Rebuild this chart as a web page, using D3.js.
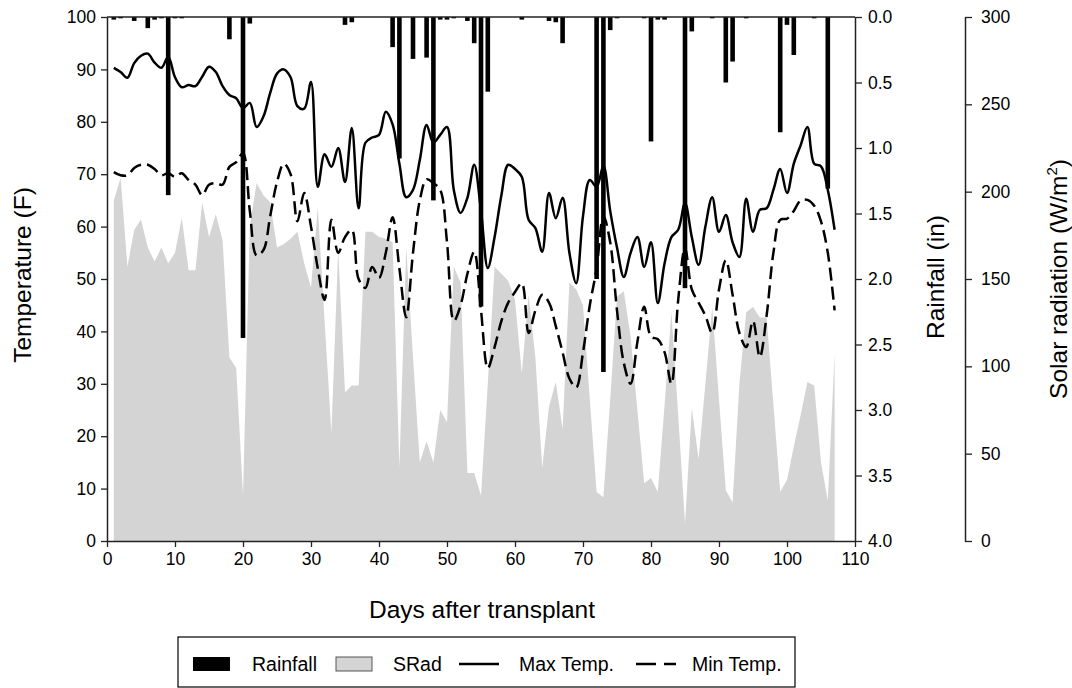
<!DOCTYPE html>
<html>
<head>
<meta charset="utf-8">
<script src="https://cdn.jsdelivr.net/npm/d3@7"></script>
<style>
  body { margin: 0; background: #fff; }
  text { font-family: Arial, "Liberation Sans", sans-serif; fill: #000; }
</style>
</head>
<body>
<svg id="chart" width="1072" height="688"></svg>
<script>
// daily values, day 1 .. day 107
const maxTemp = [90.3, 89.5, 88.4, 91.2, 92.6, 93, 91.3, 90.3, 92.4, 88.5,
  86.6, 87, 86.8, 88.6, 90.5, 89.5, 86.8, 85.1, 84.5, 82.6,
  83.6, 79, 81, 85.5, 89.2, 90, 88.5, 83, 82.5, 87.6,
  67.6, 73.8, 71.4, 75, 68.5, 78.8, 63.5, 76, 77, 77.5,
  81.9, 79.5, 72, 65.6, 67, 72.7, 79.4, 76, 77.5, 79,
  67, 62.6, 65.5, 71.8, 63, 52.1, 58, 66, 71.8, 71,
  69.5, 61.3, 59.7, 55.2, 66.4, 61.6, 65.5, 55, 49.2, 62,
  68.9, 67.6, 71.6, 63, 56, 50.4, 55, 58, 52.3, 57,
  45.4, 53, 58, 59.4, 64.5, 58, 52.7, 60, 65.6, 59,
  62.2, 57, 54.2, 65.3, 59, 63.2, 63.5, 67, 71, 66.4,
  72, 75.5, 79, 72, 71.5, 67, 59.4];

const minTemp = [70.4, 69.8, 69.8, 71.2, 71.8, 71.8, 71, 69.8, 70.2, 69.5,
  70.2, 68.9, 68, 66, 68, 68.3, 68, 71.4, 72.3, 74,
  63, 54.5, 55.5, 62, 68.5, 72, 70, 61, 66.4, 60,
  52, 46, 61.3, 55, 58, 59.4, 50, 48.3, 52.3, 50.2,
  55, 61.8, 52, 42.7, 55, 65, 69, 68.3, 67, 57,
  42, 45, 51, 55.2, 44, 33, 37, 42, 45.5, 47.5,
  49.2, 39.7, 44, 47, 45.5, 41, 36, 31, 29.3, 36,
  45, 52, 62, 57, 44, 34, 30, 38, 44.7, 39,
  38.5, 36, 30, 46, 56, 48, 45.5, 43, 39.7, 48,
  53.6, 47, 39.7, 37, 42, 35.1, 43, 55, 61.3, 61.5,
  63, 65, 65.1, 64, 61, 55, 44];

const sRad = [195, 208, 157, 178, 184, 168, 160, 168, 159, 165,
  185, 155, 155, 194, 174, 187, 172, 105, 99, 26,
  180, 205, 198, 194, 168, 170, 173, 177, 159, 145,
  191, 126, 62, 167, 85, 89, 89, 177, 177, 174,
  173, 171, 42, 168, 105, 45, 57, 45, 75, 68,
  157, 148, 39, 39, 26, 90, 157, 153, 149, 138,
  96, 141, 105, 42, 77, 91, 64, 148, 144, 135,
  81, 28, 25, 81, 140, 143, 117, 75, 33, 36,
  28, 78, 131, 72, 10, 76, 47, 90, 134, 81,
  29, 22, 90, 131, 134, 128, 128, 78, 28, 35,
  54, 72, 91, 89, 45, 23, 107];

// rainfall only on the days it fell
const rainDays = [1, 2, 4, 6, 7, 8, 9, 10, 11, 18, 20, 21, 35, 36, 42, 43, 45, 47, 48, 49,
  50, 51, 53, 54, 55, 56, 61, 65, 66, 67, 72, 73, 74, 75, 79, 80, 81, 82, 85, 86,
  89, 91, 92, 94, 99, 100, 101, 104, 106];
const rainIn = [0.02, 0.01, 0.03, 0.085, 0.02, 0.01, 1.36, 0.01, 0.01, 0.17, 2.45, 0.05, 0.06, 0.04, 0.23, 1.08, 0.32, 0.31, 1.4, 0.02,
  0.02, 0.01, 0.03, 0.2, 2.21, 0.57, 0.02, 0.03, 0.04, 0.2, 2.0, 2.71, 0.1, 0.01, 0.01, 0.95, 0.02, 0.02, 2.07, 0.11,
  0.01, 0.5, 0.34, 0.01, 0.88, 0.06, 0.29, 0.01, 1.31];

const tempTicks = [0, 10, 20, 30, 40, 50, 60, 70, 80, 90, 100];
const dayTicks = [0, 10, 20, 30, 40, 50, 60, 70, 80, 90, 100, 110];
const rainTicks = [0, 0.5, 1, 1.5, 2, 2.5, 3, 3.5, 4];
const sradTicks = [0, 50, 100, 150, 200, 250, 300];

const L = 107, R = 855, T = 17, B = 541;

const svg = d3.select("#chart");

const x = d3.scaleLinear().domain([0, 110]).range([L, R]);
const yT = d3.scaleLinear().domain([0, 100]).range([B, T]);
const yR = d3.scaleLinear().domain([0, 4]).range([T, B]);
const yS = d3.scaleLinear().domain([0, 300]).range([B, T]);

const days = maxTemp.map((d, i) => i + 1);

// solar radiation area
svg.append("path")
  .datum(days)
  .attr("fill", "#d4d4d4")
  .attr("d", d3.area()
    .x(d => x(d))
    .y0(B)
    .y1(d => yS(sRad[d - 1])));

// temperature lines
const line = (arr) => d3.line()
  .curve(d3.curveCatmullRom.alpha(0.5))
  .x(d => x(d))
  .y(d => yT(arr[d - 1]));

svg.append("path")
  .datum(days)
  .attr("fill", "none")
  .attr("stroke", "#000")
  .attr("stroke-width", 2.5)
  .attr("d", line(maxTemp));

svg.append("path")
  .datum(days)
  .attr("fill", "none")
  .attr("stroke", "#000")
  .attr("stroke-width", 2.5)
  .attr("stroke-dasharray", "13,6")
  .attr("d", line(minTemp));

// rainfall bars hanging from the top
svg.selectAll(".rain")
  .data(rainDays)
  .enter()
  .append("rect")
  .attr("class", "rain")
  .attr("x", d => x(d) - 2.3)
  .attr("y", T)
  .attr("width", 4.6)
  .attr("height", (d, i) => yR(rainIn[i]) - T)
  .attr("fill", "#000");

// axes
function styleAxis(g) {
  g.selectAll("path.domain").attr("stroke", "#222").attr("stroke-width", 1.5);
  g.selectAll(".tick line").attr("stroke", "#222").attr("stroke-width", 1.3);
  g.selectAll(".tick text").attr("font-size", 17.5).attr("fill", "#000")
    .style("font-family", "Arial, 'Liberation Sans', sans-serif");
}

svg.append("g")
  .attr("transform", `translate(${L},0)`)
  .call(d3.axisLeft(yT).tickValues(tempTicks).tickSize(6).tickSizeOuter(0).tickPadding(5))
  .call(styleAxis);

svg.append("g")
  .attr("transform", `translate(0,${B})`)
  .call(d3.axisBottom(x).tickValues(dayTicks).tickSize(6).tickSizeOuter(0).tickPadding(6))
  .call(styleAxis);

svg.append("g")
  .attr("transform", `translate(${R},0)`)
  .call(d3.axisRight(yR).tickValues(rainTicks).tickFormat(d3.format(".1f")).tickSize(7).tickSizeOuter(0).tickPadding(6))
  .call(styleAxis);

svg.append("g")
  .attr("transform", "translate(965,0)")
  .call(d3.axisRight(yS).tickValues(sradTicks).tickSize(7).tickSizeOuter(0).tickPadding(9))
  .call(styleAxis);

// top frame
svg.append("line")
  .attr("x1", L).attr("x2", R).attr("y1", T).attr("y2", T)
  .attr("stroke", "#222").attr("stroke-width", 1.5);

// titles
svg.append("text")
  .attr("transform", "translate(31,275) rotate(-90)")
  .attr("text-anchor", "middle")
  .attr("font-size", 24.5)
  .text("Temperature (F)");

svg.append("text")
  .attr("transform", "translate(944,277) rotate(-90)")
  .attr("text-anchor", "middle")
  .attr("font-size", 24.5)
  .text("Rainfall (in)");

const st = svg.append("text")
  .attr("transform", "translate(1067,279) rotate(-90)")
  .attr("text-anchor", "middle")
  .attr("font-size", 24.5);
st.append("tspan").text("Solar radiation (W/m");
st.append("tspan").attr("font-size", 15).attr("dy", -10).text("2");
st.append("tspan").attr("dy", 10).text(")");

svg.append("text")
  .attr("x", 482)
  .attr("y", 618)
  .attr("text-anchor", "middle")
  .attr("font-size", 24.5)
  .text("Days after transplant");

// legend
const lg = svg.append("g");
lg.append("rect")
  .attr("x", 178).attr("y", 637).attr("width", 617).attr("height", 50)
  .attr("fill", "none").attr("stroke", "#000").attr("stroke-width", 1.2);

const ly = 664;
lg.append("rect").attr("x", 193).attr("y", ly - 7).attr("width", 37).attr("height", 14).attr("fill", "#000");
lg.append("text").attr("x", 252).attr("y", ly + 7).attr("font-size", 19.5).text("Rainfall");
lg.append("rect").attr("x", 336).attr("y", ly - 7).attr("width", 36).attr("height", 14)
  .attr("fill", "#d4d4d4").attr("stroke", "#555").attr("stroke-width", 1);
lg.append("text").attr("x", 393).attr("y", ly + 7).attr("font-size", 19.5).text("SRad");
lg.append("line").attr("x1", 459).attr("x2", 499).attr("y1", ly).attr("y2", ly)
  .attr("stroke", "#000").attr("stroke-width", 2.5);
lg.append("text").attr("x", 519).attr("y", ly + 7).attr("font-size", 19.5).text("Max Temp.");
lg.append("line").attr("x1", 636).attr("x2", 676).attr("y1", ly).attr("y2", ly)
  .attr("stroke", "#000").attr("stroke-width", 2.5).attr("stroke-dasharray", "20,8");
lg.append("text").attr("x", 692).attr("y", ly + 7).attr("font-size", 19.5).text("Min Temp.");
</script>
</body>
</html>
